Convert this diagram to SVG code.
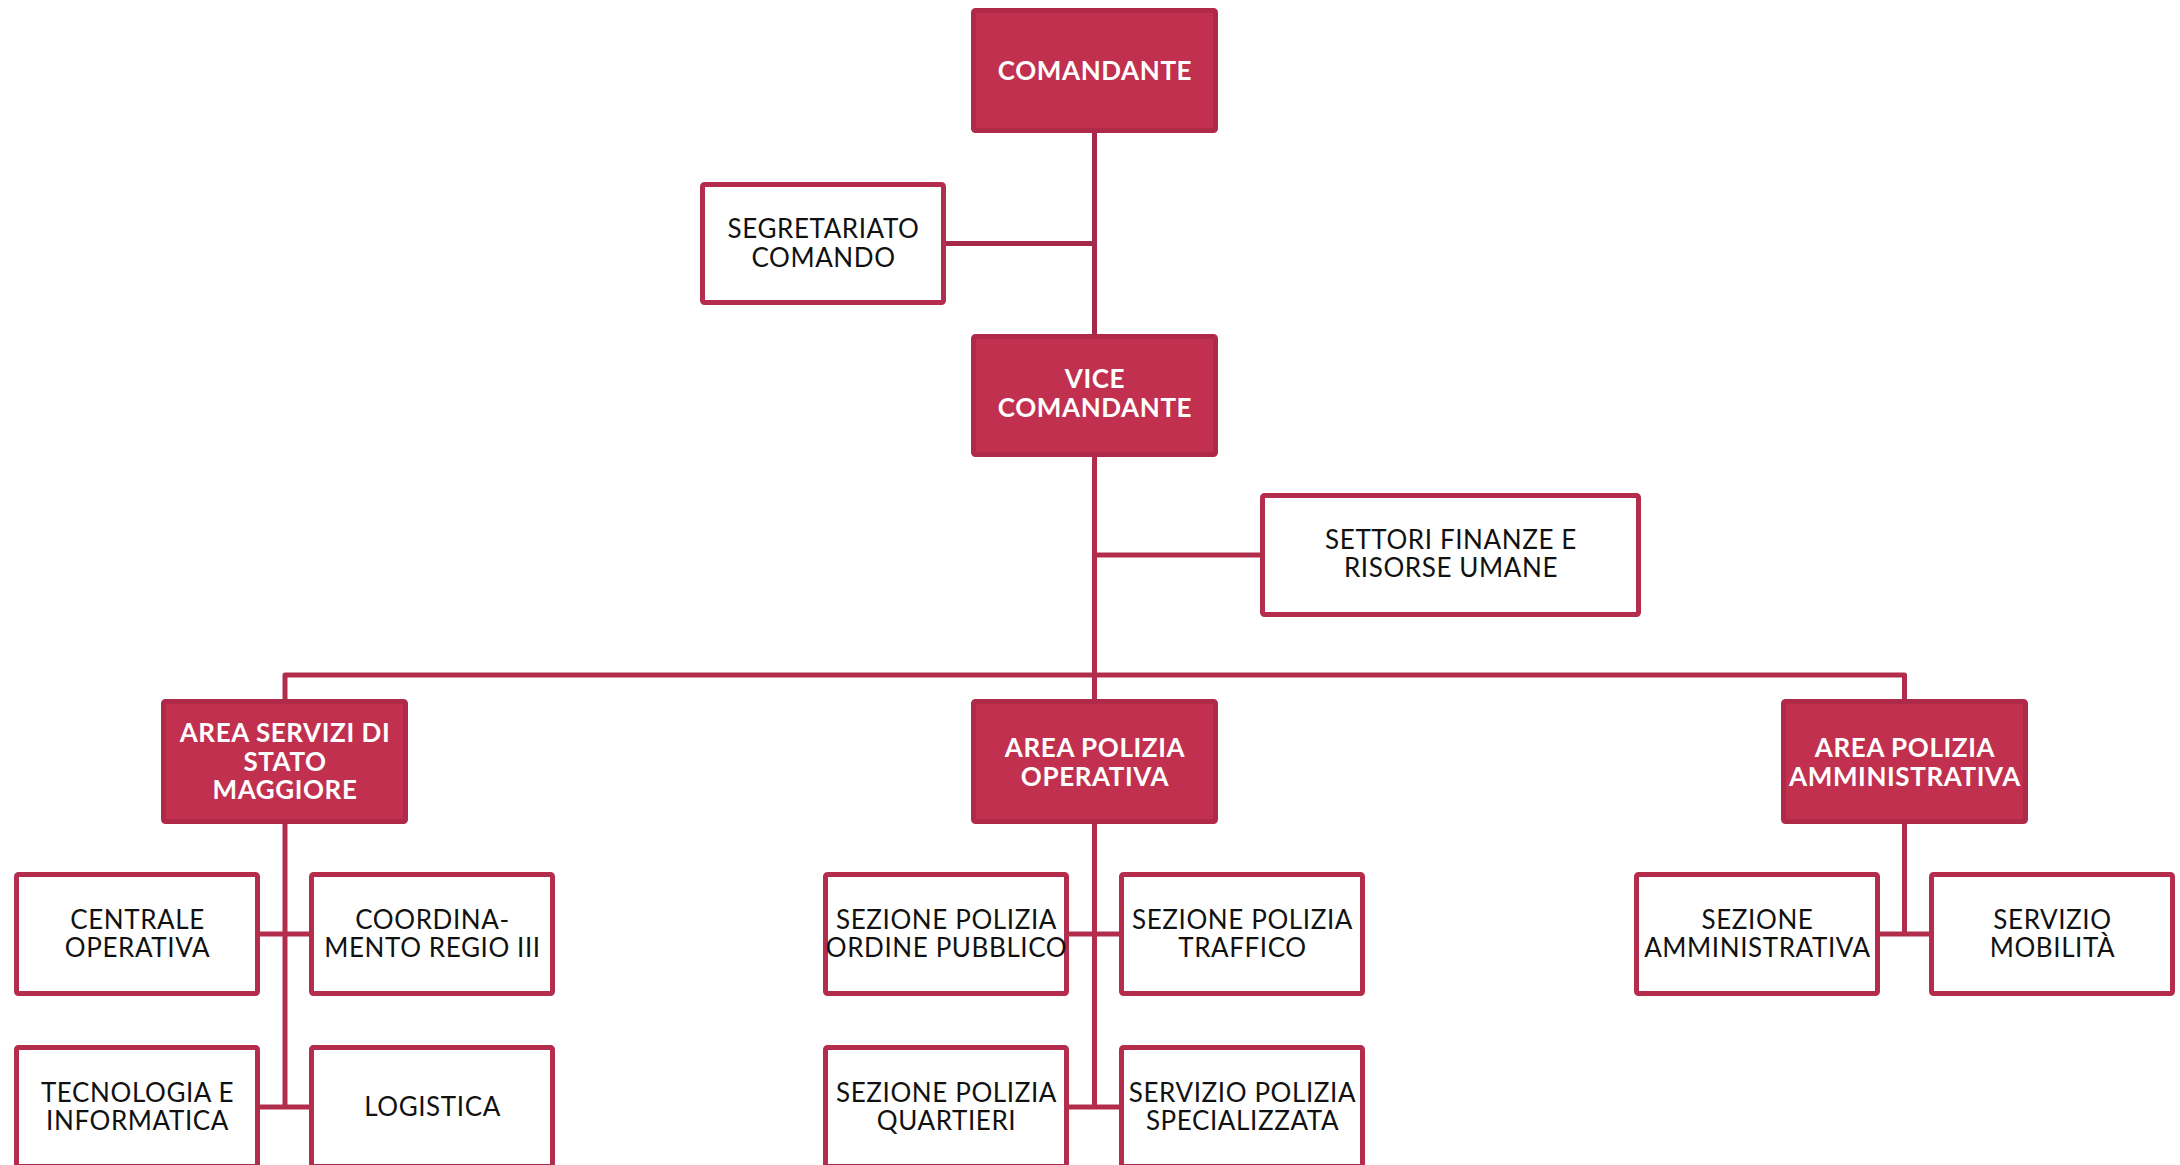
<svg xmlns="http://www.w3.org/2000/svg" width="2180" height="1165" viewBox="0 0 2180 1165">
<style>
.red rect{fill:#C2304F;stroke:#AF2A48;stroke-width:5}
.wht rect{fill:#FFFFFF;stroke:#B52D4C;stroke-width:5}
.red text{fill:#FFFFFF;font-family:Lato,"Noto Sans",sans-serif;font-weight:700;font-size:26px;letter-spacing:0.6px;text-anchor:middle}
.wht text{fill:#111111;font-family:Lato,"Noto Sans",sans-serif;font-weight:400;font-size:26px;letter-spacing:0.6px;text-anchor:middle}
.con path{fill:none;stroke:#B22D4C;stroke-width:5;stroke-linejoin:round}
.con path.dk{stroke:#A5294A}
</style>
<rect width="2180" height="1165" fill="#FFFFFF"/>
<g class="con" id="connectors">
<path class="dk" d="M1094.5 133V334"/>
<path class="dk" d="M946 243.5H1094.5"/>
<path d="M1094.5 457V699"/>
<path d="M1094.5 555H1260"/>
<path d="M285 699V675H1904.5V699"/>
<path d="M285 824V1107"/>
<path d="M260 934H309"/>
<path d="M260 1107H309"/>
<path d="M1094.5 824V1107"/>
<path d="M1069 934H1119"/>
<path d="M1069 1107H1119"/>
<path d="M1904.5 824V934"/>
<path d="M1880 934H1929"/>
</g>
<g class="red" id="comandante"><rect x="973.5" y="10.5" width="242" height="120" rx="2"/><text x="1095" y="80">COMANDANTE</text></g>
<g class="wht" id="segretariato"><rect x="702.5" y="184.5" width="241" height="118" rx="2"/><text x="823.5" y="238">SEGRETARIATO</text><text x="823.5" y="267">COMANDO</text></g>
<g class="red" id="vice"><rect x="973.5" y="336.5" width="242" height="118" rx="2"/><text x="1095" y="388">VICE</text><text x="1095" y="417">COMANDANTE</text></g>
<g class="wht" id="settori"><rect x="1262.5" y="495.5" width="376" height="119" rx="2"/><text x="1451" y="549">SETTORI FINANZE E</text><text x="1451" y="577">RISORSE UMANE</text></g>
<g class="red" id="area-servizi"><rect x="163.5" y="701.5" width="242" height="120" rx="2"/><text x="285" y="742">AREA SERVIZI DI</text><text x="285" y="771">STATO</text><text x="285" y="799">MAGGIORE</text></g>
<g class="red" id="area-operativa"><rect x="973.5" y="701.5" width="242" height="120" rx="2"/><text x="1095" y="757">AREA POLIZIA</text><text x="1095" y="786">OPERATIVA</text></g>
<g class="red" id="area-amministrativa"><rect x="1783.5" y="701.5" width="242" height="120" rx="2"/><text x="1905" y="757">AREA POLIZIA</text><text x="1905" y="786">AMMINISTRATIVA</text></g>
<g class="wht" id="centrale"><rect x="16.5" y="874.5" width="241" height="119" rx="2"/><text x="137.5" y="929">CENTRALE</text><text x="137.5" y="957">OPERATIVA</text></g>
<g class="wht" id="coordinamento"><rect x="311.5" y="874.5" width="241" height="119" rx="2"/><text x="432.5" y="929">COORDINA-</text><text x="432.5" y="957">MENTO REGIO III</text></g>
<g class="wht" id="tecnologia"><rect x="16.5" y="1047.5" width="241" height="119" rx="2"/><text x="137.5" y="1102">TECNOLOGIA E</text><text x="137.5" y="1130">INFORMATICA</text></g>
<g class="wht" id="logistica"><rect x="311.5" y="1047.5" width="241" height="119" rx="2"/><text x="432.5" y="1116">LOGISTICA</text></g>
<g class="wht" id="ordine-pubblico"><rect x="825.5" y="874.5" width="241" height="119" rx="2"/><text x="946.5" y="929">SEZIONE POLIZIA</text><text x="946.5" y="957">ORDINE PUBBLICO</text></g>
<g class="wht" id="traffico"><rect x="1121.5" y="874.5" width="241" height="119" rx="2"/><text x="1242.5" y="929">SEZIONE POLIZIA</text><text x="1242.5" y="957">TRAFFICO</text></g>
<g class="wht" id="quartieri"><rect x="825.5" y="1047.5" width="241" height="119" rx="2"/><text x="946.5" y="1102">SEZIONE POLIZIA</text><text x="946.5" y="1130">QUARTIERI</text></g>
<g class="wht" id="specializzata"><rect x="1121.5" y="1047.5" width="241" height="119" rx="2"/><text x="1242.5" y="1102">SERVIZIO POLIZIA</text><text x="1242.5" y="1130">SPECIALIZZATA</text></g>
<g class="wht" id="sez-amministrativa"><rect x="1636.5" y="874.5" width="241" height="119" rx="2"/><text x="1757.5" y="929">SEZIONE</text><text x="1757.5" y="957">AMMINISTRATIVA</text></g>
<g class="wht" id="mobilita"><rect x="1931.5" y="874.5" width="241" height="119" rx="2"/><text x="2052.5" y="929">SERVIZIO</text><text x="2052.5" y="957">MOBILITÀ</text></g>
</svg>
